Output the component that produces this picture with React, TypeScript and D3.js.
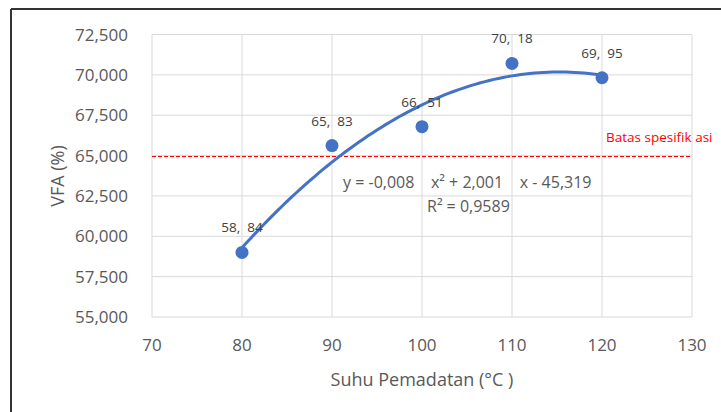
import React from "react";
import * as d3 from "d3";

const temps = [80, 90, 100, 110, 120];
const vfa = [59.0, 65.62, 66.79, 70.71, 69.82];
const pointLabels = ["58,  84", "65,  83", "66,  51", "70,  18", "69,  95"];
const xTicks = [70, 80, 90, 100, 110, 120, 130];
const yTicks = [55, 57.5, 60, 62.5, 65, 67.5, 70, 72.5];
const specLimit = 65;
const equationText = "y = -0,008    x² + 2,001    x - 45,319";
const r2Text = "R² = 0,9589";
const specLabel = "Batas spesifik asi";

function fitQuadratic(xs: number[], ys: number[]) {
  // least squares y = a + b x + c x^2
  const n = xs.length;
  let s1 = 0, s2 = 0, s3 = 0, s4 = 0, sy = 0, sxy = 0, sx2y = 0;
  for (let i = 0; i < n; i++) {
    const x = xs[i], y = ys[i];
    s1 += x; s2 += x * x; s3 += x * x * x; s4 += x * x * x * x;
    sy += y; sxy += x * y; sx2y += x * x * y;
  }
  const M = [
    [n, s1, s2, sy],
    [s1, s2, s3, sxy],
    [s2, s3, s4, sx2y],
  ];
  for (let i = 0; i < 3; i++) {
    for (let k = i + 1; k < 3; k++) {
      const f = M[k][i] / M[i][i];
      for (let j = i; j < 4; j++) M[k][j] -= f * M[i][j];
    }
  }
  const sol = [0, 0, 0];
  for (let i = 2; i >= 0; i--) {
    let s = M[i][3];
    for (let j = i + 1; j < 3; j++) s -= M[i][j] * sol[j];
    sol[i] = s / M[i][i];
  }
  return (x: number) => sol[0] + sol[1] * x + sol[2] * x * x;
}

export default function App() {
  const W = 721, H = 412;
  const left = 152, right = 692, top = 34.5, bottom = 317;
  const x = d3.scaleLinear().domain([70, 130]).range([left, right]);
  const y = d3.scaleLinear().domain([55, 72.5]).range([bottom, top]);
  const fit = fitQuadratic(temps, vfa);
  const curvePts = d3.range(80, 120.01, 0.5).map((t) => [t, fit(t)] as [number, number]);
  const line = d3
    .line<[number, number]>()
    .x((d) => x(d[0]))
    .y((d) => y(d[1]))
    .curve(d3.curveMonotoneX);
  const font = "'Open Sans', 'Noto Sans', sans-serif";
  const grey = "#595959";
  const blue = "#4472C4";
  const fmtY = (v: number) => v.toFixed(3).replace(".", ",");
  const specY = Math.round(y(specLimit)) + 0.5;

  return (
    <svg
      width={W}
      height={H}
      style={{ position: "absolute", left: 0, top: 0, background: "#fff" }}
    >
      <rect x={0} y={0} width={W} height={H} fill="#fff" />
      {/* outer frame */}
      <line x1={11} y1={9} x2={W} y2={9} stroke="#333" strokeWidth={2} />
      <line x1={11} y1={9} x2={11} y2={H} stroke="#333" strokeWidth={2} />

      {/* grid */}
      {yTicks.map((t) => (
        <line key={"gy" + t} x1={left} x2={right} y1={y(t)} y2={y(t)} stroke="#d9d9d9" strokeWidth={1} />
      ))}
      {xTicks.map((t) => (
        <line key={"gx" + t} x1={x(t)} x2={x(t)} y1={top} y2={bottom} stroke="#d9d9d9" strokeWidth={1} />
      ))}

      {/* y tick labels */}
      {yTicks.map((t) => (
        <text key={"ty" + t} x={128} y={y(t) + 6} textAnchor="end" fontFamily={font} fontSize={17} fill={grey}>
          {fmtY(t)}
        </text>
      ))}
      {/* x tick labels */}
      {xTicks.map((t) => (
        <text key={"tx" + t} x={x(t)} y={351} textAnchor="middle" fontFamily={font} fontSize={17} fill={grey}>
          {t}
        </text>
      ))}

      {/* axis titles */}
      <text x={422} y={386} textAnchor="middle" fontFamily={font} fontSize={18} fill={grey}>
        Suhu Pemadatan (°C )
      </text>
      <text
        transform={`translate(64,176) rotate(-90)`}
        textAnchor="middle"
        fontFamily={font}
        fontSize={18}
        fill={grey}
      >
        VFA (%)
      </text>

      {/* spec limit */}
      <line
        x1={left}
        x2={right}
        y1={specY}
        y2={specY}
        stroke="#FF0000"
        strokeWidth={1}
        strokeDasharray="4,2"
      />
      <text x={606} y={142} fontFamily={font} fontSize={13.5} fill="#FF0000" style={{ whiteSpace: "pre" }}>
        {specLabel}
      </text>

      {/* trendline */}
      <path d={line(curvePts) || ""} fill="none" stroke={blue} strokeWidth={3} />

      {/* points */}
      {temps.map((t, i) => (
        <circle key={"p" + i} cx={x(t)} cy={y(vfa[i])} r={6.5} fill={blue} />
      ))}
      {temps.map((t, i) => (
        <text
          key={"l" + i}
          x={x(t)}
          y={y(vfa[i]) - 20}
          textAnchor="middle"
          fontFamily={font}
          fontSize={13.5}
          fill="#404040"
          style={{ whiteSpace: "pre" }}
        >
          {pointLabels[i]}
        </text>
      ))}

      {/* equation */}
      <text x={343} y={188} fontFamily={font} fontSize={16} fill={grey} style={{ whiteSpace: "pre" }}>
        {equationText}
      </text>
      <text x={427} y={212} fontFamily={font} fontSize={16} fill={grey} style={{ whiteSpace: "pre" }}>
        {r2Text}
      </text>
    </svg>
  );
}
